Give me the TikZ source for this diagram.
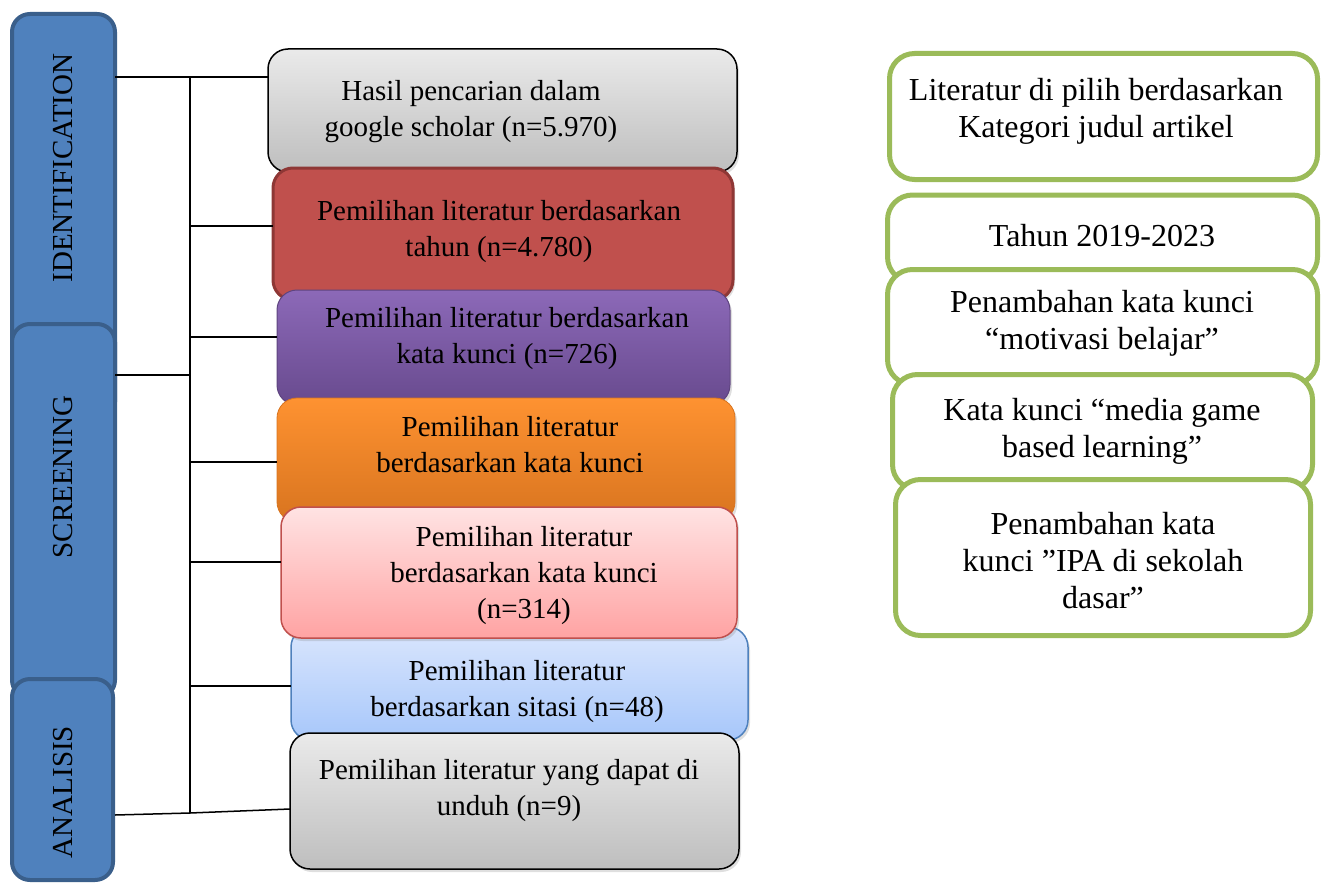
\documentclass[tikz,border=0pt]{standalone}
\usepackage{fontspec}
\setmainfont{Liberation Serif}
\usetikzlibrary{shadows}
\definecolor{barfill}{HTML}{4F81BD}
\definecolor{barline}{HTML}{3A5F8B}
\definecolor{redfill}{HTML}{C0504D}
\definecolor{redline}{HTML}{8E3735}
\definecolor{purtop}{HTML}{8C69B8}
\definecolor{purbot}{HTML}{684A8E}
\definecolor{purline}{HTML}{5E447F}
\definecolor{ortop}{HTML}{FE9231}
\definecolor{orbot}{HTML}{D8741F}
\definecolor{pinktop}{HTML}{FFE3E3}
\definecolor{pinkbot}{HTML}{FFA3A3}
\definecolor{bluetop}{HTML}{DAE6FD}
\definecolor{bluebot}{HTML}{A7C7FA}
\definecolor{greyline}{HTML}{000000}
\definecolor{greytop}{HTML}{EAEAEA}
\definecolor{greybot}{HTML}{BEBEBE}
\definecolor{green}{HTML}{9BBB59}
\begin{document}
\begin{tikzpicture}[x=1pt,y=-1pt,
  every node/.style={inner sep=0pt,outer sep=0pt},
  txt/.style={align=center,font=\fontsize{29}{36}\selectfont},
  rtxt/.style={align=center,font=\fontsize{32}{37}\selectfont},
  bar/.style={draw=barline,fill=barfill,line width=4pt,rounded corners=18pt},
  mbox/.style={rounded corners=20pt,drop shadow={shadow xshift=2pt,shadow yshift=-3pt,opacity=0.25}},
  rbox/.style={draw=green,fill=white,line width=5pt,rounded corners=25pt},
  conn/.style={draw=black,line width=1.5pt}]
\useasboundingbox (0,0) rectangle (1322,883);
% left phase bars
\node[bar,minimum width=103pt,minimum height=406pt] (idb) at (63.5,217) {};
\node[bar,minimum width=103pt,minimum height=374pt] (scb) at (63.5,511) {};
\node[bar,minimum width=101pt,minimum height=201pt] (anb) at (62.5,779.5) {};
\node[txt,rotate=90] (idt) at (63,168) {IDENTIFICATION};
\node[txt,rotate=90] (sct) at (63,477) {SCREENING};
\node[txt,rotate=90] (ant) at (63,792) {ANALISIS};
% spine coordinates
\coordinate (spT) at (190,77);
\coordinate (j1) at (190,226);
\coordinate (j2) at (190,337);
\coordinate (j3) at (190,375);
\coordinate (j4) at (190,462);
\coordinate (j5) at (190,562);
\coordinate (j6) at (190,686);
\coordinate (j7) at (190,813);
\coordinate (aL) at (115,815);
\coordinate (aR) at (290,809);
% middle boxes
\node[mbox,draw=greyline,line width=1.5pt,top color=greytop,bottom color=greybot,minimum width=469pt,minimum height=123pt] (g1) at (502.5,110.5) {};
\node[mbox,draw=redline,line width=3pt,fill=redfill,minimum width=460pt,minimum height=132pt] (rd) at (503,234) {};
\node[mbox,draw=purline,line width=1pt,top color=purtop,bottom color=purbot,minimum width=453pt,minimum height=115pt] (pu) at (503.5,347.5) {};
\node[mbox,draw=orbot,line width=0.8pt,top color=ortop,bottom color=orbot,minimum width=458pt,minimum height=124pt] (or) at (506,460) {};
\node[mbox,draw=barfill,line width=1.5pt,top color=bluetop,bottom color=bluebot,minimum width=457pt,minimum height=113pt] (bl) at (519.5,683.5) {};
\node[mbox,draw=redfill,line width=1.5pt,top color=pinktop,bottom color=pinkbot,minimum width=456pt,minimum height=131pt] (pk) at (509,572.5) {};
\node[mbox,draw=greyline,line width=1.5pt,top color=greytop,bottom color=greybot,minimum width=449pt,minimum height=136pt] (g2) at (514.5,801) {};
\node[txt] (g1t) at (471,112) {Hasil pencarian dalam\\google scholar (n=5.970)};
\node[txt] (rdt) at (499,232) {Pemilihan literatur berdasarkan\\tahun (n=4.780)};
\node[txt] (put) at (507,339) {Pemilihan literatur berdasarkan\\kata kunci (n=726)};
\node[txt] (ort) at (510,445) {Pemilihan literatur\\berdasarkan kata kunci};
\node[txt] (pkt) at (524,576) {Pemilihan literatur\\berdasarkan kata kunci\\(n=314)};
\node[txt] (blt) at (517,692) {Pemilihan literatur\\berdasarkan sitasi (n=48)};
\node[txt] (g2t) at (509,791) {Pemilihan literatur yang dapat di\\unduh (n=9)};
% connectors
\draw[conn] (spT) -- (j7);
\draw[conn] (idb.east |- spT) -- (g1.west |- spT);
\draw[conn] (j1) -- (rd.west |- j1);
\draw[conn] (j2) -- (pu.west |- j2);
\draw[conn] (scb.east |- j3) -- (j3);
\draw[conn] (j4) -- (or.west |- j4);
\draw[conn] (j5) -- (pk.west |- j5);
\draw[conn] (j6) -- (bl.west |- j6);
\draw[conn] (aL) -- (j7) -- (aR);
% right boxes
\node[rbox,minimum width=428pt,minimum height=126pt] (r1) at (1103.5,116.5) {};
\node[rbox,minimum width=430pt,minimum height=87pt] (r2) at (1102.5,238.5) {};
\node[rbox,minimum width=430pt,minimum height=115pt] (r3) at (1102.5,327) {};
\node[rbox,minimum width=420pt,minimum height=115pt] (r4) at (1102.5,432) {};
\node[rbox,minimum width=415pt,minimum height=156pt] (r5) at (1103,557.5) {};
\node[rtxt] (r1t) at (1096,111) {Literatur di pilih berdasarkan\\Kategori judul artikel};
\node[rtxt] (r2t) at (1102,236) {Tahun 2019-2023};
\node[rtxt] (r3t) at (1102,323) {Penambahan kata kunci\\“motivasi belajar”};
\node[rtxt] (r4t) at (1102,431) {Kata kunci “media game\\based learning”};
\node[rtxt] (r5t) at (1103,561) {Penambahan kata\\kunci ”IPA di sekolah\\dasar”};
\end{tikzpicture}
\end{document}
